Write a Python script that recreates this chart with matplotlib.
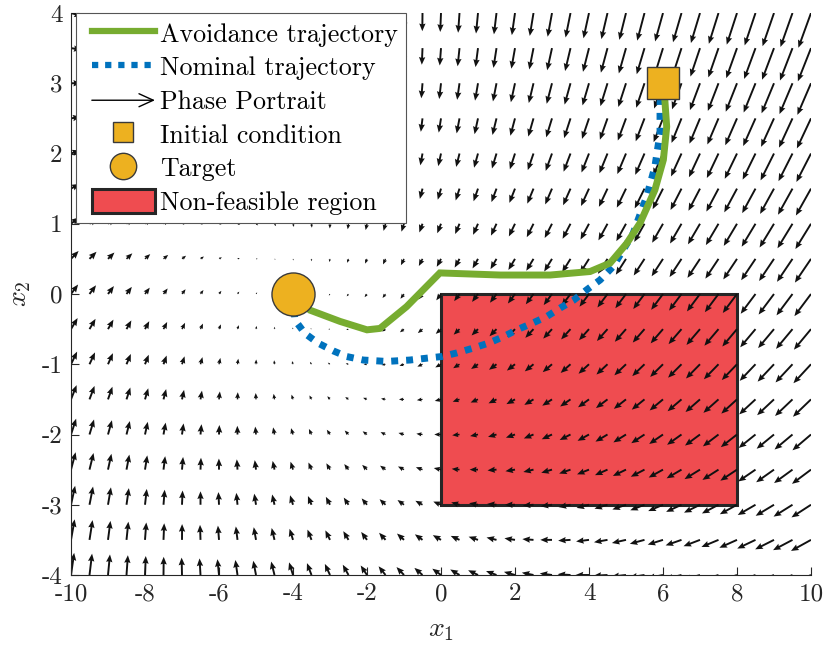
import numpy as np
import matplotlib
matplotlib.use("Agg")
import matplotlib.pyplot as plt
from matplotlib.patches import Rectangle, FancyArrowPatch
from matplotlib.lines import Line2D
from matplotlib.legend_handler import HandlerBase, HandlerLine2D, HandlerPatch

plt.rcParams['font.family'] = ['cmr10', 'DejaVu Serif']
plt.rcParams['mathtext.fontset'] = 'cm'
plt.rcParams['axes.unicode_minus'] = False

# ---------------- data ----------------
# avoidance trajectory (green)
avoid_x = [-4.0, -3.54, -2.73, -2.0, -1.65, -0.93, -0.03, 1.6, 2.95, 4.03, 4.57,
           5.02, 5.38, 5.78, 6.01, 6.10, 6.05, 6.0]
avoid_y = [0.0, -0.23, -0.39, -0.51, -0.49, -0.18, 0.30, 0.27, 0.27, 0.32, 0.44,
           0.72, 1.01, 1.48, 1.91, 2.38, 2.76, 3.0]

# nominal trajectory (blue dotted)
nominal_x = [6.0, 5.92, 5.92, 5.78, 5.56, 5.19, 4.65, 4.30, 3.94, 3.58, 3.22, 2.86,
             2.45, 2.05, 1.68, 1.28, 0.87, 0.42, 0.02, -0.84, -1.47, -2.1, -2.55,
             -2.91, -3.32, -3.68, -3.95, -4.0]
nominal_y = [3.0, 2.72, 2.29, 1.81, 1.39, 0.86, 0.39, 0.20, 0.06, -0.09, -0.20, -0.32,
             -0.42, -0.51, -0.61, -0.70, -0.77, -0.84, -0.89, -0.94, -0.96, -0.94, -0.89,
             -0.81, -0.70, -0.56, -0.37, 0.0]

initial_condition = (6.0, 3.0)
target = (-4.0, 0.0)

# non-feasible region: x in [0, 8], y in [-3, 0]
region_x = (0.0, 8.0)
region_y = (-3.0, 0.0)

# phase-portrait system: dx/dt = A (x - target), sampled on a 0.5 grid
system_A = [[-0.032, 0.0266],
            [-0.0225, -0.045]]
grid_x1 = np.linspace(-10, 10, 41)
grid_x2 = np.linspace(-4, 4, 17)

x_ticks = [-10, -8, -6, -4, -2, 0, 2, 4, 6, 8, 10]
x_ticklabels = ['-10', '-8', '-6', '-4', '-2', '0', '2', '4', '6', '8', '10']
y_ticks = [-4, -3, -2, -1, 0, 1, 2, 3, 4]
y_ticklabels = ['-4', '-3', '-2', '-1', '0', '1', '2', '3', '4']

labels = ['Avoidance trajectory', 'Nominal trajectory', 'Phase Portrait',
          'Initial condition', 'Target', 'Non-feasible region']

# ---------------- styles ----------------
GREEN = '#77AC30'
BLUE = '#0072BD'
ORANGE = '#EDB120'
RED = '#EF4C50'
DARK = '#262626'
LEG_FS = 18.7
HANDLE_OFF = 5.8  # points of empty space left of each legend handle

fig = plt.figure(figsize=(8.31, 6.55), dpi=100)
ax = fig.add_axes([71 / 831, 80 / 655, 740 / 831, 562 / 655])

# region
rect = Rectangle((region_x[0], region_y[0]), region_x[1] - region_x[0],
                 region_y[1] - region_y[0], facecolor=RED, edgecolor=DARK,
                 linewidth=2.2, zorder=1)
ax.add_patch(rect)

# quiver
X, Y = np.meshgrid(grid_x1, grid_x2)
A = np.array(system_A)
DX = X - target[0]
DY = Y - target[1]
U = A[0, 0] * DX + A[0, 1] * DY
V = A[1, 0] * DX + A[1, 1] * DY
ax.quiver(X, Y, U, V, angles='xy', scale_units='xy', scale=1, pivot='tail',
          color='#111111', width=0.0026, headwidth=3.3, headlength=4.0,
          headaxislength=3.6, minshaft=1.2, minlength=0.3, zorder=2)

# trajectories
ax.plot(nominal_x, nominal_y, color=BLUE, linewidth=5, linestyle=(0, (1, 1.15)),
        dash_capstyle='butt', zorder=3)
ax.plot(avoid_x, avoid_y, color=GREEN, linewidth=5, solid_capstyle='butt',
        solid_joinstyle='miter', zorder=4)

# markers
ax.plot([initial_condition[0]], [initial_condition[1]], marker='s', markersize=23,
        markerfacecolor=ORANGE, markeredgecolor='#3a3a3a', markeredgewidth=1,
        linestyle='none', zorder=5)
ax.plot([target[0]], [target[1]], marker='o', markersize=31,
        markerfacecolor=ORANGE, markeredgecolor='#3a3a3a', markeredgewidth=1,
        linestyle='none', zorder=5)

ax.set_xlim(-10, 10)
ax.set_ylim(-4, 4)
ax.set_xticks(x_ticks)
ax.set_xticklabels(x_ticklabels)
ax.set_yticks(y_ticks)
ax.set_yticklabels(y_ticklabels)
ax.tick_params(direction='in', length=6, width=0.8, colors=DARK, labelsize=18, pad=6)
for s in ['top', 'right']:
    ax.spines[s].set_visible(False)
for s in ['left', 'bottom']:
    ax.spines[s].set_color(DARK)
    ax.spines[s].set_linewidth(0.8)

ax.set_xlabel('$x_1$', fontsize=20, labelpad=8, color=DARK)
ax.set_ylabel('$x_2$', fontsize=20, labelpad=6, color=DARK)


# legend
class ArrowProxy:
    pass


class HandlerArrow(HandlerBase):
    def create_artists(self, legend, orig_handle, xdescent, ydescent, width,
                       height, fontsize, trans):
        yc = height / 2 - ydescent
        x0 = -xdescent + HANDLE_OFF
        p = FancyArrowPatch((x0, yc), (-xdescent + width, yc),
                            arrowstyle='->,head_length=0.55,head_width=0.25',
                            mutation_scale=fontsize, color='k', lw=1.0,
                            shrinkA=0, shrinkB=0, transform=trans)
        return [p]


class OffsetLine(HandlerLine2D):
    def create_artists(self, legend, orig_handle, xdescent, ydescent, width,
                       height, fontsize, trans):
        return super().create_artists(legend, orig_handle, xdescent - HANDLE_OFF,
                                      ydescent, width - HANDLE_OFF, height,
                                      fontsize, trans)


class OffsetPatch(HandlerPatch):
    def create_artists(self, legend, orig_handle, xdescent, ydescent, width,
                       height, fontsize, trans):
        return super().create_artists(legend, orig_handle, xdescent - HANDLE_OFF,
                                      ydescent, width - HANDLE_OFF, height,
                                      fontsize, trans)


h_avoid = Line2D([], [], color=GREEN, linewidth=4.5)
h_nom = Line2D([], [], color=BLUE, linewidth=4.5, linestyle=(0, (1, 1.1)),
               dash_capstyle='butt')
h_arrow = ArrowProxy()
h_init = Line2D([], [], marker='s', markersize=14, markerfacecolor=ORANGE,
                markeredgecolor='#3a3a3a', linestyle='none')
h_target = Line2D([], [], marker='o', markersize=19, markerfacecolor=ORANGE,
                  markeredgecolor='#3a3a3a', linestyle='none')
h_rect = Rectangle((0, 0), 1, 1, facecolor=RED, edgecolor=DARK, linewidth=2.2)

leg = ax.legend([h_avoid, h_nom, h_arrow, h_init, h_target, h_rect], labels,
                handler_map={ArrowProxy: HandlerArrow(), Line2D: OffsetLine(),
                             Rectangle: OffsetPatch()},
                loc='upper left', bbox_to_anchor=(5 / 740, 1.0), borderaxespad=0,
                fontsize=LEG_FS, frameon=True, fancybox=False, framealpha=1,
                edgecolor='#555555', borderpad=0.3, labelspacing=0.3,
                handlelength=2.74, handleheight=1.05, handletextpad=0.2)
leg.get_frame().set_linewidth(0.8)
leg.set_zorder(10)

fig.savefig('out.png', dpi=100)
